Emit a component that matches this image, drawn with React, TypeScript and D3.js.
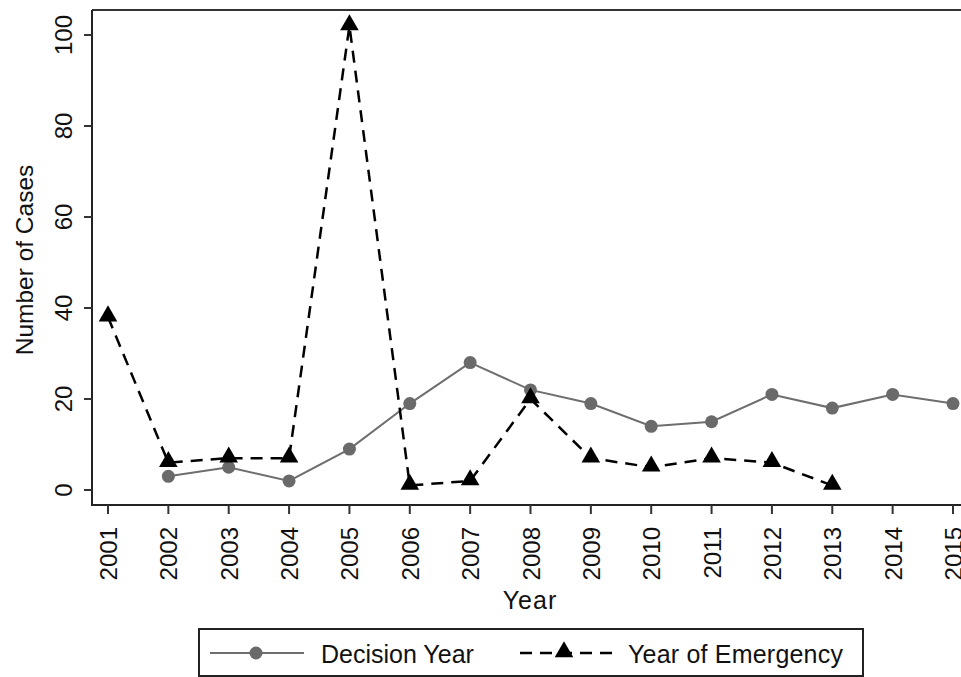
import React from "react";
import * as d3 from "d3";

// data
const years = [2001, 2002, 2003, 2004, 2005, 2006, 2007, 2008, 2009, 2010, 2011, 2012, 2013, 2014, 2015];
const decisionYears = [2002, 2003, 2004, 2005, 2006, 2007, 2008, 2009, 2010, 2011, 2012, 2013, 2014, 2015];
const decisionCases = [3, 5, 2, 9, 19, 28, 22, 19, 14, 15, 21, 18, 21, 19];
const emergencyYears = [2001, 2002, 2003, 2004, 2005, 2006, 2007, 2008, 2009, 2010, 2011, 2012, 2013];
const emergencyCases = [38, 6, 7, 7, 102, 1, 2, 20, 7, 5, 7, 6, 1];
const yTicks = [0, 20, 40, 60, 80, 100];

const W = 961;
const H = 677;
const plotLeft = 92;
const plotTop = 10;
const plotBottom = 505;
const font = "'Liberation Sans', Arial, Helvetica, sans-serif";

export default function App() {
  const x = d3.scaleLinear().domain([2001, 2015]).range([108, 953]);
  const y = d3.scaleLinear().domain([0, 100]).range([490, 35]);

  const decision = decisionYears.map((yr, i) => ({ yr, v: decisionCases[i] }));
  const emergency = emergencyYears.map((yr, i) => ({ yr, v: emergencyCases[i] }));

  const line = d3
    .line<{ yr: number; v: number }>()
    .x((d) => x(d.yr))
    .y((d) => y(d.v));

  const tri = d3.symbol().type(d3.symbolTriangle).size(150)();

  return (
    <svg
      width={W}
      height={H}
      style={{ position: "absolute", left: 0, top: 0, background: "#fff" }}
      fontFamily={font}
    >
      {/* frame */}
      <line x1={plotLeft} x2={W} y1={plotTop} y2={plotTop} stroke="#333" strokeWidth={2} />
      <line x1={plotLeft} x2={plotLeft} y1={plotTop} y2={plotBottom} stroke="#222" strokeWidth={2} />
      <line x1={plotLeft - 1} x2={W} y1={plotBottom} y2={plotBottom} stroke="#222" strokeWidth={2} />

      {/* y axis */}
      {yTicks.map((t) => (
        <g key={t}>
          <line x1={plotLeft - 8} x2={plotLeft} y1={y(t)} y2={y(t)} stroke="#333" strokeWidth={2} />
          <text
            transform={`translate(${plotLeft - 20},${y(t)}) rotate(-90)`}
            textAnchor="middle"
            fontSize={24}
            fill="#111"
          >
            {t}
          </text>
        </g>
      ))}
      <text
        transform={`translate(33,${260}) rotate(-90)`}
        textAnchor="middle"
        fontSize={24.5}
        fill="#111"
      >
        Number of Cases
      </text>

      {/* x axis */}
      {years.map((yr) => (
        <g key={yr}>
          <line x1={x(yr)} x2={x(yr)} y1={plotBottom} y2={plotBottom + 9} stroke="#333" strokeWidth={2} />
          <text
            transform={`translate(${x(yr) + 9},${plotBottom + 22}) rotate(-90)`}
            textAnchor="end"
            fontSize={24}
            fill="#111"
          >
            {yr}
          </text>
        </g>
      ))}
      <text x={530} y={609} textAnchor="middle" fontSize={25} letterSpacing={1} fill="#111">
        Year
      </text>

      {/* series */}
      <path d={line(decision) ?? ""} fill="none" stroke="#6e6e6e" strokeWidth={2} />
      {decision.map((d) => (
        <circle key={d.yr} cx={x(d.yr)} cy={y(d.v)} r={6.5} fill="#6a6a6a" />
      ))}
      <path
        d={line(emergency) ?? ""}
        fill="none"
        stroke="#000"
        strokeWidth={2.5}
        strokeDasharray="12,8"
      />
      {emergency.map((d) => (
        <path key={d.yr} d={tri ?? ""} transform={`translate(${x(d.yr)},${y(d.v) - 1})`} fill="#000" />
      ))}

      {/* legend */}
      <rect x={199} y={629} width={664} height={47} fill="#fff" stroke="#222" strokeWidth={2} />
      <line x1={210} x2={304} y1={653} y2={653} stroke="#6e6e6e" strokeWidth={2} />
      <circle cx={256} cy={653} r={6.5} fill="#6a6a6a" />
      <text x={321} y={663} fontSize={25} fill="#111">
        Decision Year
      </text>
      <line x1={520} x2={612} y1={653} y2={653} stroke="#000" strokeWidth={2.5} strokeDasharray="12,8" />
      <path d={tri ?? ""} transform={`translate(564,652)`} fill="#000" />
      <text x={628} y={663} fontSize={25} letterSpacing={0.2} fill="#111">
        Year of Emergency
      </text>
    </svg>
  );
}
